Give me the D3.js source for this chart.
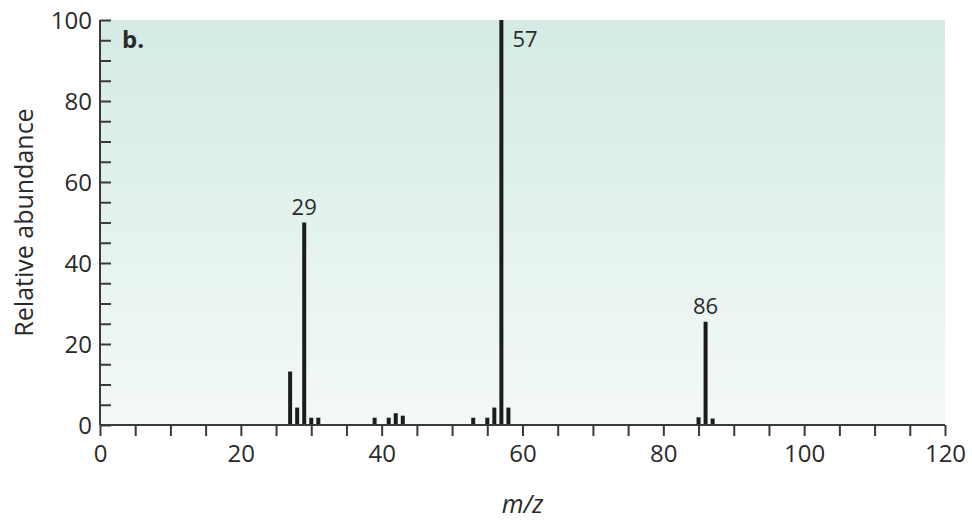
<!DOCTYPE html>
<html>
<head>
<meta charset="utf-8">
<script src="https://cdn.jsdelivr.net/npm/d3@7"></script>
<style>
  html, body { margin: 0; padding: 0; background: #ffffff; }
  svg { display: block; font-family: "Open Sans", "Noto Sans", sans-serif; }
</style>
</head>
<body>
<svg id="chart" width="972" height="523"></svg>
<script>
// Mass spectrum peaks: m/z and relative abundance (%)
const mzValues = [27, 28, 29, 30, 31, 39, 41, 42, 43, 53, 55, 56, 57, 58, 85, 86, 87];
const abundance = [13.2, 4.3, 50, 1.8, 1.8, 1.8, 1.8, 2.9, 2.3, 1.8, 1.8, 4.3, 100, 4.3, 1.9, 25.5, 1.6];

// Labelled peaks
const labelledMz = [29, 57, 86];

// Axis ticks
const xMajorTicks = [0, 20, 40, 60, 80, 100, 120];
const yMajorTicks = [0, 20, 40, 60, 80, 100];

const panelLabel = "b.";
const yTitle = "Relative abundance";

const svg = d3.select("#chart");
const margin = { left: 100, right: 27, top: 20, bottom: 98 };
const W = 972, H = 523;
const plotW = W - margin.left - margin.right;
const plotH = H - margin.top - margin.bottom;

const x = d3.scaleLinear().domain([0, 120]).range([margin.left, margin.left + plotW]);
const y = d3.scaleLinear().domain([0, 100]).range([margin.top + plotH, margin.top]);

const textColor = "#2a2a2a";
const tickFont = 24;

// Background gradient of the plot panel
const defs = svg.append("defs");
const grad = defs.append("linearGradient")
  .attr("id", "panelFill").attr("x1", 0).attr("y1", 0).attr("x2", 0).attr("y2", 1);
grad.append("stop").attr("offset", "0%").attr("stop-color", "#d4ebe5");
grad.append("stop").attr("offset", "100%").attr("stop-color", "#f3f9f8");

svg.append("rect")
  .attr("x", x(0)).attr("y", y(100))
  .attr("width", x(120) - x(0)).attr("height", y(0) - y(100))
  .attr("fill", "url(#panelFill)");

// Peaks
const peaks = mzValues.map((m, i) => ({ mz: m, ab: abundance[i] }));
const barW = 4;
svg.append("g").selectAll("rect")
  .data(peaks).join("rect")
  .attr("x", d => x(d.mz) - barW / 2)
  .attr("y", d => y(d.ab))
  .attr("width", barW)
  .attr("height", d => y(0) - y(d.ab))
  .attr("fill", "#1c1c1c");

// Axes
const axisColor = "#3a3a3a";
const xAxis = d3.axisBottom(x)
  .tickValues(d3.range(0, 121, 5))
  .tickSize(11)
  .tickFormat(d => xMajorTicks.includes(d) ? d : "");
const gx = svg.append("g").attr("transform", `translate(0,${y(0)})`).call(xAxis);
gx.select(".domain").remove();
gx.append("line").attr("x1", x(0)).attr("x2", x(120)).attr("stroke", axisColor).attr("stroke-width", 2);
gx.selectAll(".tick line").attr("stroke", axisColor).attr("stroke-width", 2);
gx.selectAll(".tick text")
  .attr("fill", textColor).attr("font-size", tickFont)
  .attr("y", 14).attr("dy", "0.96em")
  .attr("font-family", "'Open Sans', 'Noto Sans', sans-serif");

const yAxis = d3.axisRight(y)
  .tickValues(d3.range(0, 101, 5))
  .tickSize(11)
  .tickFormat("");
const gy = svg.append("g").attr("transform", `translate(${x(0)},0)`).call(yAxis);
gy.select(".domain").remove();
gy.append("line").attr("y1", y(0)).attr("y2", y(100)).attr("stroke", axisColor).attr("stroke-width", 2);
gy.selectAll(".tick line").attr("stroke", axisColor).attr("stroke-width", 2);

svg.append("g").selectAll("text")
  .data(yMajorTicks).join("text")
  .attr("x", x(0) - 8)
  .attr("y", d => y(d))
  .attr("dy", "0.36em")
  .attr("text-anchor", "end")
  .attr("font-size", tickFont)
  .attr("fill", textColor)
  .text(d => d);

// Axis titles
svg.append("text")
  .attr("transform", `translate(33,${(y(0) + y(100)) / 2}) rotate(-90)`)
  .attr("text-anchor", "middle")
  .attr("font-size", 25)
  .attr("fill", textColor)
  .text(yTitle);

const xt = svg.append("text")
  .attr("x", (x(0) + x(120)) / 2)
  .attr("y", 513)
  .attr("text-anchor", "middle")
  .attr("font-size", 25)
  .attr("fill", textColor);
xt.append("tspan").attr("font-style", "italic").text("m");
xt.append("tspan").attr("font-style", "italic").text("/");
xt.append("tspan").attr("font-style", "italic").text("z");

// Panel label
svg.append("text")
  .attr("x", x(0) + 22).attr("y", y(100) + 28)
  .attr("font-size", 24).attr("font-weight", "bold")
  .attr("fill", textColor)
  .text(panelLabel);

// Peak labels
peaks.filter(d => labelledMz.includes(d.mz)).forEach(d => {
  const isTop = d.ab >= 100;
  svg.append("text")
    .attr("x", isTop ? x(d.mz) + 11 : x(d.mz))
    .attr("y", isTop ? y(d.ab) + 27 : y(d.ab) - 8)
    .attr("text-anchor", isTop ? "start" : "middle")
    .attr("font-size", 22)
    .attr("fill", textColor)
    .text(d.mz);
});
</script>
</body>
</html>
